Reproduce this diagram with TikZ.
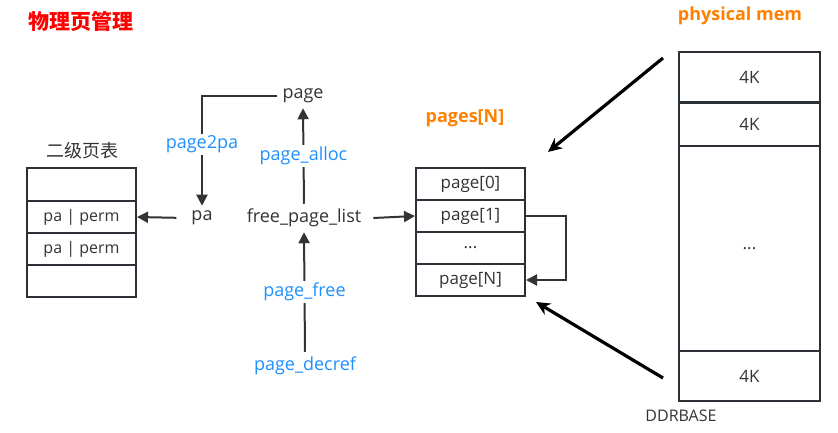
\documentclass[tikz,border=0pt]{standalone}
\usepackage{fontspec}
\setmainfont{Open Sans}
\newfontfamily\cjk{Noto Sans CJK SC}
\usetikzlibrary{arrows.meta}
\definecolor{txt}{HTML}{333333}
\definecolor{linec}{HTML}{2B3036}
\definecolor{fnblue}{HTML}{1E90FF}
\definecolor{orng}{HTML}{FF8000}
\tikzset{
  cell/.style={draw=linec, line width=2pt, minimum width=109pt, inner sep=0pt, text=txt, font=\fontsize{17}{17}\selectfont},
  memcell/.style={draw=linec, line width=2pt, minimum width=141pt, inner sep=0pt, text=txt, font=\fontsize{17}{17}\selectfont},
  lbl/.style={text=txt, font=\fontsize{18}{18}\selectfont, inner sep=5pt},
  fn/.style={text=fnblue, font=\fontsize{18}{18}\selectfont, fill=white, inner sep=2pt},
  conn/.style={draw=txt, line width=2pt, -{Triangle[length=11pt,width=11pt]}},
  bigarr/.style={draw=black, line width=3.2pt, -{Stealth[length=14pt,width=13pt]}},
  ttl/.style={font=\cjk\bfseries\fontsize{21}{21}\selectfont},
  hdr/.style={font=\bfseries\fontsize{18}{18}\selectfont, text=orng},
}
\begin{document}
\begin{tikzpicture}[x=1pt,y=-1pt]
\useasboundingbox (0,0) rectangle (838,433);
% title
\node[ttl, text=red] (title) at (81,21) {物理页管理};
\node[hdr] (pmlabel) at (740,16) {physical mem};
\node[hdr] (pageslabel) at (465,118) {pages[N]};
% left table
\node[font=\cjk\fontsize{18}{18}\selectfont, text=txt] (pgtlabel) at (82,151) {二级页表};
\node[cell, minimum height=33pt] (t0) at (81.5,184.5) {};
\node[cell, minimum height=32pt, font=\fontsize{16}{16}\selectfont] (t1) at (81.5,217) {pa | perm};
\node[cell, minimum height=32pt, font=\fontsize{16}{16}\selectfont] (t2) at (81.5,249) {pa | perm};
\node[cell, minimum height=32pt] (t3) at (81.5,281) {};
% pages table
\node[cell, minimum height=32pt] (p0) at (470.5,184) {page[0]};
\node[cell, minimum height=32pt] (p1) at (470.5,216) {page[1]};
\node[cell, minimum height=32pt] (p2) at (470.5,248) {...};
\node[cell, minimum height=32pt] (p3) at (470.5,280) {page[N]};
% physical memory
\node[memcell, minimum height=50pt] (m0) at (749.5,77) {4K};
\node[memcell, minimum height=43pt] (m1) at (749.5,124.5) {4K};
\node[memcell, minimum height=205pt] (m2) at (749.5,248.5) {...};
\node[memcell, minimum height=50pt] (m3) at (749.5,376) {4K};
\node[text=txt, font=\fontsize{16}{16}\selectfont] (ddr) at (681,416) {DDRBASE};
% middle nodes
\node[lbl] (page) at (303,96) {page};
\node[lbl] (pa) at (202,218) {pa};
\node[lbl] (fpl) at (304,218) {free\_page\_list};
\node[fn, inner sep=5pt] (decref) at (305,366) {page\_decref};
% connectors
\draw[conn] (page.west) -| (pa.north) node[fn, pos=0.72] (p2pa) {page2pa};
\draw[conn] (fpl.north) -- (page.south) node[fn, midway] (alloc) {page\_alloc};
\draw[conn] (decref.north) -- (fpl.south) node[fn, midway] (pfree) {page\_free};
\draw[conn, shorten <=10pt] (pa.west) -- (t1.east);
\draw[conn] ([xshift=7pt]fpl.east) -- (p1.west);
\coordinate (lr) at (566,216);
\draw[conn] (p1.east) -- (lr) |- (p3.east);
% big arrows
\coordinate (a1s) at (663,58);
\coordinate (a1e) at (548,152);
\coordinate (a2s) at (663,378);
\coordinate (a2e) at (536,302);
\draw[bigarr] (a1s) -- (a1e);
\draw[bigarr] (a2s) -- (a2e);
\end{tikzpicture}
\end{document}
